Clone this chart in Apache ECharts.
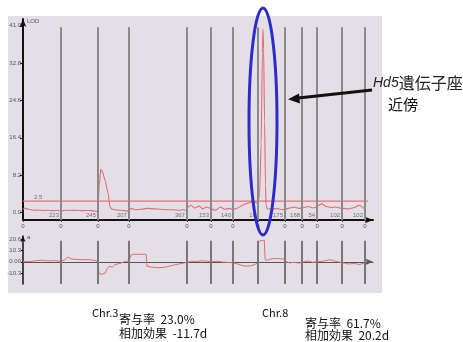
<!DOCTYPE html>
<html>
<head>
<meta charset="utf-8">
<script src="https://cdn.jsdelivr.net/npm/echarts@6/dist/echarts.min.js"></script>
<style>
  html, body { margin: 0; padding: 0; background: #fff; }
  #chart { width: 463px; height: 342px; }
</style>
</head>
<body>
<div id="chart"></div>
<script>
// chromosome lengths (cM), rice chr1..chr12
const chrLen = [243, 237, 198, 371, 154, 141, 160, 173, 109, 96, 160, 147];
const markerLabels = ['223', '245', '207', '367', '153', '140', '16', '175', '168', '54', '102', '102'];

// LOD profile per chromosome: [position in cM, LOD]
const lodByChr = [
  [[0, 0.7], [10, 1.0], [25, 0.8], [45, 0.6], [70, 0.5], [100, 0.55], [130, 0.45], [160, 0.5], [190, 0.4], [220, 0.5], [243, 0.3]],
  [[0, 0.4], [30, 0.5], [60, 0.45], [100, 0.5], [140, 0.4], [180, 0.45], [210, 0.35], [237, 0.2]],
  [[0, 0.3], [8, 6.0], [18, 9.5], [30, 8.8], [45, 7.1], [64, 4.3], [77, 1.2], [90, 0.7], [110, 0.6], [140, 0.5], [170, 0.4], [198, 0.3]],
  [[0, 0.5], [15, 0.9], [40, 0.6], [80, 0.7], [120, 0.9], [160, 0.8], [200, 0.7], [240, 0.6], [280, 0.6], [320, 0.5], [350, 0.6], [371, 0.4]],
  [[0, 1.0], [25, 1.6], [50, 1.0], [80, 1.4], [100, 0.8], [125, 1.2], [154, 0.9]],
  [[0, 0.8], [30, 0.5], [60, 1.2], [90, 0.7], [120, 0.9], [141, 0.6]],
  [[0, 0.6], [30, 1.0], [60, 1.6], [100, 2.1], [130, 2.4], [160, 2.0]],
  [[0, 2.0], [10, 4], [20, 15], [28, 35], [32, 40.3], [36, 36], [42, 20], [48, 6], [52, 1.5], [60, 0.8], [90, 0.7], [120, 0.9], [150, 0.6], [173, 0.7]],
  [[0, 0.7], [30, 1.0], [60, 1.2], [90, 0.9], [109, 1.0]],
  [[0, 1.0], [40, 1.3], [70, 1.0], [96, 1.2]],
  [[0, 1.4], [30, 1.9], [60, 1.3], [90, 1.1], [120, 1.2], [160, 0.9]],
  [[0, 0.9], [40, 0.8], [80, 1.1], [110, 1.6], [130, 1.2], [147, 0.6]]
];

// additive effect per chromosome: [position in cM, effect]
const addByChr = [
  [[0, 0.5], [40, 0.2], [80, 1.0], [120, 1.5], [160, 0.8], [200, 1.2], [243, 0.5]],
  [[0, 0.5], [25, 2], [45, 4.5], [60, 3.0], [90, 2.2], [140, 2.0], [180, 2.0], [210, 1.5], [237, 0.3]],
  [[0, -1], [6, -10.5], [20, -11.7], [45, -10.5], [60, -6], [75, -4], [90, -5], [105, -3], [125, -2], [150, -1], [175, 0.5], [198, 0.5]],
  [[0, 0.5], [12, 6], [25, 7], [60, 7], [110, 7], [116, -4], [140, -4.8], [180, -5.5], [220, -5.2], [260, -4], [300, -2.5], [340, -1.5], [371, -0.5]],
  [[0, -0.5], [30, 0.5], [60, 0.3], [100, 1], [130, 0.5], [154, 0.2]],
  [[0, 0.2], [40, 0.5], [80, -0.3], [110, -0.5], [141, -1]],
  [[0, -1], [30, -2], [60, -3.5], [90, -4], [120, -3.5], [145, -2], [160, -1]],
  [[0, 1], [4, 19], [10, 20.2], [40, 20.2], [46, 2], [60, 1.5], [90, 3], [130, 3], [173, 2.5]],
  [[0, 0.5], [30, -1], [60, -0.5], [90, -1.2], [109, -0.3]],
  [[0, -0.5], [40, 0.8], [70, -0.5], [96, 0.3]],
  [[0, -0.5], [40, 0.5], [80, 2], [120, 0.5], [160, -0.8]],
  [[0, -0.8], [40, -2], [80, -1.5], [110, -2.5], [147, -1]]
];

const lodTicks = [0, 8.2, 16.4, 24.6, 32.8, 41.0];
const addTicks = [20.6, 10.3, 0, -10.3];
const threshold = 2.5;
const thresholdEnd = 2208;
const peakChr = 7; // chr8
const peakPos = 32;

const xMax = 2240;
const lodMin = -1.65, lodMax = 42.5;
const addMin = -20.6, addMax = 24;

const offsets = [];
let acc = 0;
chrLen.forEach(l => { offsets.push(acc); acc += l; });
const total = acc;
const boundaries = offsets.slice(1).concat([total]);
const chrEnds = offsets.map((o, i) => o + chrLen[i]);

const lodData = [];
lodByChr.forEach((pts, i) => pts.forEach(p => lodData.push([offsets[i] + p[0], p[1]])));
const addData = [];
addByChr.forEach((pts, i) => pts.forEach(p => addData.push([offsets[i] + p[0], p[1]])));

const smallFont = { fontFamily: 'Liberation Sans', fontSize: 6, color: '#555' };

const chart = echarts.init(document.getElementById('chart'), null, { renderer: 'canvas' });

const option = {
  animation: false,
  backgroundColor: '#fff',
  grid: [
    { left: 23, right: 90, top: 19, bottom: 122 },
    { left: 23, right: 90, top: 236, bottom: 58 }
  ],
  xAxis: [
    {
      gridIndex: 0, type: 'value', min: 0, max: xMax,
      axisLine: { onZero: false, lineStyle: { color: '#111', width: 2 }, symbol: ['none', 'arrow'], symbolSize: [5, 8] },
      axisTick: { show: true, length: 2, lineStyle: { color: '#444' }, customValues: [0].concat(boundaries) },
      axisLabel: { ...smallFont, margin: 3, customValues: [0].concat(boundaries), formatter: () => '0' },
      splitLine: { show: false }
    },
    {
      gridIndex: 1, type: 'value', min: 0, max: xMax,
      axisLine: { onZero: true, lineStyle: { color: '#555', width: 1 }, symbol: ['none', 'arrow'], symbolSize: [5, 8] },
      axisTick: { show: false },
      axisLabel: { show: false },
      splitLine: { show: false }
    }
  ],
  yAxis: [
    {
      gridIndex: 0, type: 'value', min: lodMin, max: lodMax,
      name: 'LOD', nameLocation: 'end', nameGap: -5,
      nameTextStyle: { ...smallFont, align: 'left', padding: [0, 0, 0, 4] },
      axisLine: { show: true, lineStyle: { color: '#111', width: 2 }, symbol: ['none', 'arrow'], symbolSize: [5, 8] },
      axisTick: { show: true, length: 3, lineStyle: { color: '#111' }, customValues: lodTicks },
      axisLabel: { ...smallFont, margin: 2, customValues: lodTicks, formatter: v => v.toFixed(1) },
      splitLine: { show: false }
    },
    {
      gridIndex: 1, type: 'value', min: addMin, max: addMax,
      name: 'a', nameLocation: 'end', nameGap: -4,
      nameTextStyle: { ...smallFont, align: 'left', padding: [0, 0, 0, 4] },
      axisLine: { show: true, lineStyle: { color: '#111', width: 1.5 }, symbol: ['none', 'arrow'], symbolSize: [4, 6] },
      axisTick: { show: true, length: 2, lineStyle: { color: '#111' }, customValues: addTicks },
      axisLabel: { ...smallFont, margin: 2, customValues: addTicks, formatter: v => (v === 0 ? '0.00' : v.toFixed(1)) },
      splitLine: { show: false }
    }
  ],
  series: [
    {
      // chromosome boundaries + end-marker labels (upper panel)
      type: 'scatter', xAxisIndex: 0, yAxisIndex: 0, z: 1, silent: true,
      symbolSize: 0,
      data: chrEnds.map((x, i) => ({ value: [x, -0.55], name: markerLabels[i] })),
      label: { show: true, position: 'left', distance: 2, formatter: p => p.name, ...smallFont },
      markLine: {
        silent: true, symbol: 'none', label: { show: false },
        lineStyle: { color: '#8a8a8a', width: 2, type: 'solid' },
        data: boundaries.map(b => [{ coord: [b, lodMin] }, { coord: [b, 40.7] }])
      }
    },
    {
      type: 'scatter', xAxisIndex: 1, yAxisIndex: 1, z: 1, silent: true,
      symbolSize: 0, data: chrEnds.map(x => [x, addMin]),
      markLine: {
        silent: true, symbol: 'none', label: { show: false },
        lineStyle: { color: '#777', width: 2, type: 'solid' },
        data: boundaries.map(b => [{ coord: [b, addMin] }, { coord: [b, 19.5] }])
      }
    },
    {
      // significance threshold
      name: 'threshold', type: 'line', xAxisIndex: 0, yAxisIndex: 0, z: 2, silent: true,
      showSymbol: false, symbol: 'none',
      lineStyle: { color: '#f06c72', width: 1.2 },
      data: [[0, threshold], [thresholdEnd, threshold]]
    },
    {
      // threshold value label
      type: 'scatter', xAxisIndex: 0, yAxisIndex: 0, z: 4, silent: true,
      symbolSize: 0, data: [[0, threshold]],
      label: { show: true, position: 'right', offset: [6, -4], formatter: String(threshold), ...smallFont }
    },
    {
      name: 'LOD', type: 'line', xAxisIndex: 0, yAxisIndex: 0, z: 3,
      data: lodData, showSymbol: false, smooth: 0.2, smoothMonotone: 'x',
      lineStyle: { color: '#e46a6e', width: 1.1 }
    },
    {
      name: 'a', type: 'line', xAxisIndex: 1, yAxisIndex: 1, z: 3,
      data: addData, showSymbol: false,
      lineStyle: { color: '#e46a6e', width: 1 }
    }
  ]
};

chart.setOption(option);

const pk = chart.convertToPixel({ gridIndex: 0 }, [offsets[peakChr] + peakPos, 0]);
const cx = pk[0];
const txt = { fontFamily: 'Noto Sans CJK JP', fill: '#111' };

chart.setOption({
  graphic: [
    { type: 'rect', z: -10, silent: true, shape: { x: 8, y: 16, width: 374, height: 277 }, style: { fill: '#e4dfe7' } },
    { type: 'ellipse', z: 10, silent: true, shape: { cx: cx, cy: 121.5, rx: 14, ry: 113.5 }, style: { fill: 'none', stroke: '#2c2cc8', lineWidth: 3 } },
    { type: 'line', z: 10, silent: true, shape: { x1: 372, y1: 90, x2: 296, y2: 98.3 }, style: { stroke: '#111', lineWidth: 3 } },
    { type: 'polygon', z: 10, silent: true, shape: { points: [[288, 99.2], [299, 93.5], [300, 103.5]] }, style: { fill: '#111' } },
    {
      type: 'text', z: 10, x: 373, y: 83,
      style: {
        text: '{i|Hd5}{n|遺伝子座}', verticalAlign: 'middle',
        rich: {
          i: { fontFamily: 'Liberation Sans', fontStyle: 'italic', fontSize: 14, fill: '#222' },
          n: { fontFamily: 'Noto Sans CJK JP', fontSize: 16, fill: '#222' }
        }
      }
    },
    { type: 'text', z: 10, x: 388, y: 104, style: { ...txt, text: '近傍', fontSize: 15, verticalAlign: 'middle' } },
    { type: 'text', z: 10, x: 92, y: 313, style: { ...txt, text: 'Chr.3', fontSize: 11, verticalAlign: 'middle' } },
    { type: 'text', z: 10, x: 119, y: 319, style: { ...txt, text: '寄与率  23.0%', fontSize: 12, verticalAlign: 'middle' } },
    { type: 'text', z: 10, x: 119, y: 333, style: { ...txt, text: '相加効果  -11.7d', fontSize: 12, verticalAlign: 'middle' } },
    { type: 'text', z: 10, x: 262, y: 313, style: { ...txt, text: 'Chr.8', fontSize: 11, verticalAlign: 'middle' } },
    { type: 'text', z: 10, x: 305, y: 323, style: { ...txt, text: '寄与率  61.7%', fontSize: 12, verticalAlign: 'middle' } },
    { type: 'text', z: 10, x: 305, y: 335.5, style: { ...txt, text: '相加効果  20.2d', fontSize: 12, verticalAlign: 'middle' } }
  ]
});
</script>
</body>
</html>
